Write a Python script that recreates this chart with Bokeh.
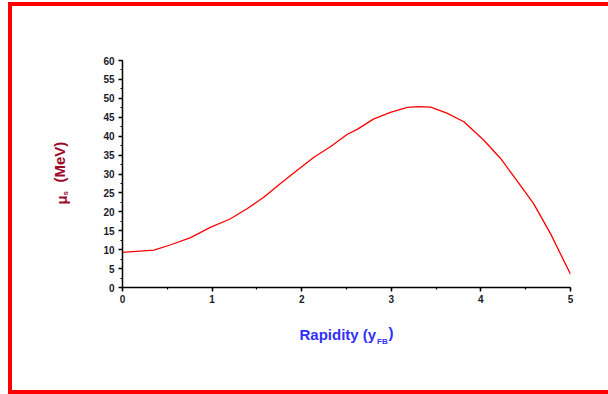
import math
from bokeh.plotting import figure
from bokeh.models import Range1d, Label, SingleIntervalTicker
from bokeh.embed import file_html
from bokeh.resources import INLINE

# data
rapidity = [0.0, 0.35, 0.54, 0.76, 0.98, 1.2, 1.39, 1.58, 1.76, 1.95, 2.14, 2.32,
            2.51, 2.62, 2.80, 2.99, 3.18, 3.30, 3.44, 3.62, 3.81, 4.03, 4.22, 4.40,
            4.59, 4.78, 5.0]
mu_s = [9.3, 9.9, 11.3, 13.2, 15.9, 18.1, 20.8, 23.9, 27.4, 31.0, 34.5, 37.2,
        40.5, 41.8, 44.5, 46.3, 47.6, 47.8, 47.7, 46.1, 43.8, 39.0, 34.1, 28.3,
        22.1, 14.1, 3.5]
x_tick_step = 1
y_tick_step = 5

FONT = "Liberation Sans"

p = figure(width=600, height=392, output_backend="svg", toolbar_location=None,
           x_range=Range1d(0, 5), y_range=Range1d(0, 60),
           min_border_left=110, min_border_right=42, min_border_top=54,
           min_border_bottom=111)
p.styles = {"border": "4px solid #ff0000", "border-right": "none",
            "margin-left": "8px", "margin-top": "2px", "overflow": "hidden"}
p.outline_line_color = None
p.xgrid.visible = False
p.ygrid.visible = False

p.line(rapidity, mu_s, line_color="#ff0000", line_width=1.3)

p.xaxis[0].ticker = SingleIntervalTicker(interval=x_tick_step, num_minor_ticks=2)
p.yaxis[0].ticker = SingleIntervalTicker(interval=y_tick_step, num_minor_ticks=2)
for ax in (p.xaxis[0], p.yaxis[0]):
    ax.axis_line_width = 1.5
    ax.axis_line_color = "black"
    ax.major_tick_line_width = 1.5
    ax.major_tick_in = 0
    ax.major_tick_out = 4
    ax.minor_tick_line_width = 1.2
    ax.minor_tick_in = 0
    ax.minor_tick_out = 2
    ax.major_label_text_font = FONT
    ax.major_label_text_font_style = "bold"
    ax.major_label_text_font_size = "10px"
    ax.major_label_text_color = "#1a1a2a"
p.xaxis[0].major_label_standoff = 3
p.yaxis[0].major_label_standoff = 4


def lab(text, x, y, size, color, angle=0.0):
    return Label(x=x, y=y, x_units="screen", y_units="screen", text=text,
                 angle=angle, text_font=FONT, text_font_style="bold",
                 text_font_size=size, text_color=color, text_align="left",
                 text_baseline="alphabetic")

# x-axis title, built from parts (each in its own panel below the axis)
xl_color = "#3030ff"
p.add_layout(lab("Rapidity (y", 177, -12, "15px", xl_color), "below")
p.add_layout(lab("FB", 254.5, -9.9, "8px", xl_color), "below")
p.add_layout(lab(")", 266, 15.6, "15px", xl_color), "below")

# y-axis title, rotated, built from parts (each in its own panel left of the axis)
yl_color = "#9b0b2b"
p.add_layout(lab("(MeV)", -24, 105, "15px", yl_color, math.pi / 2), "left")
p.add_layout(lab("s", -9.5, 92, "8px", yl_color, math.pi / 2), "left")
p.add_layout(lab("\u03bc", 3.6, 83, "15px", yl_color, math.pi / 2), "left")

open("out.html", "w").write(file_html(p, INLINE))
